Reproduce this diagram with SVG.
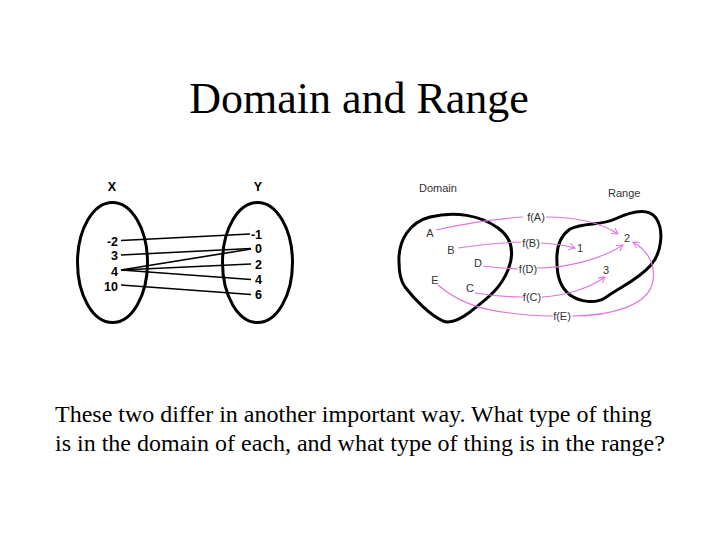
<svg xmlns="http://www.w3.org/2000/svg" width="720" height="540" viewBox="0 0 720 540">
<defs>
<style>
.title{font-family:"Liberation Serif","Times New Roman",serif;fill:#000}
.b{font-family:"Liberation Sans",Arial,sans-serif;font-weight:bold;font-size:12.5px;fill:#000}
.lbl{font-family:"Liberation Sans",Arial,sans-serif;font-size:11px;fill:#333}
.blob{fill:none;stroke:#000;stroke-width:3}
.ln{stroke:#000;stroke-width:1.6;fill:none}
.pk{stroke:#dd77dd;stroke-width:1.2;fill:none}
.pka{stroke:#dd77dd;stroke-width:1.2;fill:none;marker-end:url(#ah)}
</style>
<marker id="ah" viewBox="0 0 10 10" refX="9" refY="5" markerWidth="7" markerHeight="7" orient="auto" markerUnits="userSpaceOnUse">
<path d="M0,0 L9,5 L0,10" fill="none" stroke="#dd77dd" stroke-width="1.5"/>
</marker>
</defs>
<rect width="720" height="540" fill="#fff"/>
<text class="title" x="359" y="113" font-size="44" text-anchor="middle">Domain and Range</text>

<g id="left-diagram">
<g id="setX">
<ellipse class="blob" cx="112.5" cy="262.5" rx="35" ry="60"/>
<text class="b" x="112" y="191" text-anchor="middle">X</text>
<text class="b" x="118" y="246" text-anchor="end">-2</text>
<text class="b" x="118" y="260" text-anchor="end">3</text>
<text class="b" x="118" y="276" text-anchor="end">4</text>
<text class="b" x="118" y="291" text-anchor="end">10</text>
</g>
<g id="setY">
<ellipse class="blob" cx="257.5" cy="262.5" rx="35" ry="60"/>
<text class="b" x="258" y="191" text-anchor="middle">Y</text>
<text class="b" x="262" y="238.5" text-anchor="end">-1</text>
<text class="b" x="262" y="253" text-anchor="end">0</text>
<text class="b" x="262" y="268.5" text-anchor="end">2</text>
<text class="b" x="262" y="284" text-anchor="end">4</text>
<text class="b" x="262" y="298.5" text-anchor="end">6</text>
</g>
<g id="mappings">
<line class="ln" x1="121" y1="240.5" x2="250" y2="234"/>
<line class="ln" x1="121" y1="255" x2="251" y2="248.5"/>
<line class="ln" x1="121" y1="270" x2="251" y2="249"/>
<line class="ln" x1="121" y1="270" x2="251" y2="264"/>
<line class="ln" x1="121" y1="270" x2="251" y2="279.5"/>
<line class="ln" x1="121" y1="285" x2="251" y2="294.5"/>
</g>
</g>

<g id="right-diagram">
<g id="domain">
<path class="blob" d="M399,262 C398,240 410,222 430,217 C455,211 480,215 498,228 C512,238 515,252 508,270 C500,290 485,300 470,312 C458,321 450,324 443,321 C430,315 415,300 405,287 C400,280 399,270 399,262 Z"/>
<text class="lbl" x="419" y="192">Domain</text>
<text class="lbl" x="430" y="237" text-anchor="middle">A</text>
<text class="lbl" x="451" y="254" text-anchor="middle">B</text>
<text class="lbl" x="478" y="267" text-anchor="middle">D</text>
<text class="lbl" x="435" y="284" text-anchor="middle">E</text>
<text class="lbl" x="470" y="292" text-anchor="middle">C</text>
</g>
<g id="range">
<path class="blob" d="M557,263 C556,248 560,236 570,229 C585,222 600,226 615,219 C630,212 648,207 656,218 C664,230 662,252 651,265 C638,280 620,287 605,298 C595,304 580,302 570,295 C561,288 557,276 557,263 Z"/>
<text class="lbl" x="608" y="197">Range</text>
<text class="lbl" x="580" y="252" text-anchor="middle">1</text>
<text class="lbl" x="627" y="242" text-anchor="middle">2</text>
<text class="lbl" x="606" y="274" text-anchor="middle">3</text>
</g>
<g id="connectors">
<path class="pk" d="M436,230 Q480,220 523,217"/>
<path class="pka" d="M546,217 C575,217 600,222 618,234"/>
<path class="pk" d="M458,248 Q490,243 521,242"/>
<path class="pka" d="M541,243 Q560,244 575,248"/>
<path class="pk" d="M483,266 Q500,268 518,269"/>
<path class="pka" d="M537,268 C565,268 600,260 623,245"/>
<path class="pk" d="M475,293 Q500,297 523,297"/>
<path class="pka" d="M542,297 C565,296 590,288 605,277"/>
<path class="pk" d="M438,285 C455,300 480,310 510,313 Q530,316 553,316"/>
<path class="pka" d="M572,316 C610,316 645,306 652,285 C657,268 650,252 633,242"/>
<text class="lbl" x="536" y="221" text-anchor="middle">f(A)</text>
<text class="lbl" x="531" y="247" text-anchor="middle">f(B)</text>
<text class="lbl" x="528" y="273" text-anchor="middle">f(D)</text>
<text class="lbl" x="532" y="301" text-anchor="middle">f(C)</text>
<text class="lbl" x="562" y="320" text-anchor="middle">f(E)</text>
</g>
</g>

<text class="title" x="55" y="422" font-size="24">These two differ in another important way. What type of thing</text>
<text class="title" x="55" y="451" font-size="24">is in the domain of each, and what type of thing is in the range?</text>
</svg>
